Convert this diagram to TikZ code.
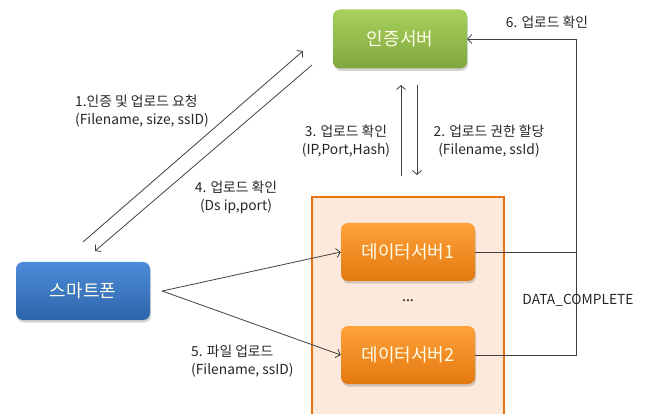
\documentclass[tikz,border=0pt]{standalone}
\usepackage{fontspec}
\setmainfont{Noto Sans CJK KR}
\usepackage{xcolor}
\usepackage{tikz}
\usetikzlibrary{positioning}
\usetikzlibrary{shadows}
\usetikzlibrary{arrows.meta}

\definecolor{authtop}{HTML}{A9D15D}
\definecolor{authbot}{HTML}{7FA63C}
\definecolor{phonetop}{HTML}{4C8BD8}
\definecolor{phonebot}{HTML}{2E65AB}
\definecolor{dstop}{HTML}{FFA23A}
\definecolor{dsbot}{HTML}{E3790F}
\definecolor{poolfill}{HTML}{FCE9DB}
\definecolor{pooledge}{HTML}{E8730E}

\begin{document}
\begin{tikzpicture}[x=1pt,y=-1pt,on grid,
    box/.style={rounded corners=7pt,minimum width=134pt,minimum height=58pt,
      text=white!92!yellow,font=\fontsize{18}{20}\selectfont,
      drop shadow={shadow xshift=1pt,shadow yshift=-2.5pt,opacity=0.35}},
    authbox/.style={box,top color=authtop,bottom color=authbot},
    phonebox/.style={box,top color=phonetop,bottom color=phonebot},
    dsbox/.style={box,top color=dstop,bottom color=dsbot},
    lbl/.style={font=\fontsize{13.8}{18}\selectfont,text=black!85,inner sep=0pt},
    arr/.style={draw=black!75,line width=0.8pt,-{Straight Barb[length=4pt,width=9pt]}},
    wire/.style={draw=black!75,line width=0.8pt}]
      \useasboundingbox (0,0) rectangle (651,414);

      %%%%%%%%%%%%%%%%%%%%%%%%%%%%%%%%%%%%%%%%%%%%%%%%%%%%%%%%%%%%%%%%%%%%%%%%%%
      %%% BEGIN: SERVERS.
      %%%%%%%%%%%%%%%%%%%%%%%%%%%%%%%%%%%%%%%%%%%%%%%%%%%%%%%%%%%%%%%%%%%%%%%%%%
      % Data server pool.
      \node[draw=pooledge,line width=2pt,fill=poolfill,
        minimum width=192pt,minimum height=224pt] (pool) at (408,309) {};
      \node[dsbox] (ds1) at (408,252) {데이터서버1};
      \node[dsbox,below=103pt of ds1] (ds2) {데이터서버2};
      \node[font=\fontsize{14}{14}\selectfont,below=49pt of ds1] (dots) {...};

      % Auth server and phone.
      \node[authbox,minimum height=59pt] (auth) at (400,39) {인증서버};
      \node[phonebox] (phone) at (83,291) {스마트폰};
      %%%%%%%%%%%%%%%%%%%%%%%%%%%%%%%%%%%%%%%%%%%%%%%%%%%%%%%%%%%%%%%%%%%%%%%%%%
      %%% END: SERVERS.
      %%%%%%%%%%%%%%%%%%%%%%%%%%%%%%%%%%%%%%%%%%%%%%%%%%%%%%%%%%%%%%%%%%%%%%%%%%

      %%%%%%%%%%%%%%%%%%%%%%%%%%%%%%%%%%%%%%%%%%%%%%%%%%%%%%%%%%%%%%%%%%%%%%%%%%
      %%% BEGIN: MESSAGES.
      %%%%%%%%%%%%%%%%%%%%%%%%%%%%%%%%%%%%%%%%%%%%%%%%%%%%%%%%%%%%%%%%%%%%%%%%%%
      % Phone <-> auth.
      \coordinate (reqfoot) at (83,242);
      \coordinate (reqhead) at (303,51);
      \coordinate (ackfoot) at (312,65);
      \coordinate (ackhead) at (95,251);
      \draw[arr] (reqfoot) -- (reqhead);
      \draw[arr] (ackfoot) -- (ackhead);
      \node[lbl,anchor=west,align=left] (reqlbl) at (75,111)
        {1.인증 및 업로드 요청\\(Filename, size, ssID)};
      \node[lbl,align=center] (acklbl) at (236,197)
        {4. 업로드 확인\\ (Ds ip,port)};

      % Auth <-> pool.
      \coordinate (upfoot) at (401,176);
      \coordinate (uphead) at (401,85);
      \coordinate (dnfoot) at (417,85);
      \coordinate (dnhead) at (417,175);
      \draw[arr] (upfoot) -- (uphead);
      \draw[arr] (dnfoot) -- (dnhead);
      \node[lbl,align=center] (uplbl) at (346,141) {3. 업로드 확인\\(IP,Port,Hash)};
      \node[lbl,align=center] (dnlbl) at (489,141) {2. 업로드 권한 할당\\(Filename, ssId)};

      % Phone -> data servers.
      \coordinate (phonetip) at ([xshift=12pt]phone.east);
      \foreach \n in {ds1,ds2}{
        \draw[arr] (phonetip) -- (\n.west);
      }
      \node[lbl,anchor=west,align=left] (putlbl) at (191,361)
        {5. 파일 업로드\\(Filename, ssID)};

      % Data servers -> auth.
      \coordinate (fb) at (576,39);
      \draw[wire] (ds1.east) -- (ds1.east -| fb);
      \draw[arr] (ds2.east) -| (fb) -- (auth.east);
      \node[lbl] (donelbl) at (578,300) {DATA\_COMPLETE};
      \node[lbl] (fblbl) at (547,22) {6. 업로드 확인};
      %%%%%%%%%%%%%%%%%%%%%%%%%%%%%%%%%%%%%%%%%%%%%%%%%%%%%%%%%%%%%%%%%%%%%%%%%%
      %%% END: MESSAGES.
      %%%%%%%%%%%%%%%%%%%%%%%%%%%%%%%%%%%%%%%%%%%%%%%%%%%%%%%%%%%%%%%%%%%%%%%%%%
    \end{tikzpicture}
\end{document}
